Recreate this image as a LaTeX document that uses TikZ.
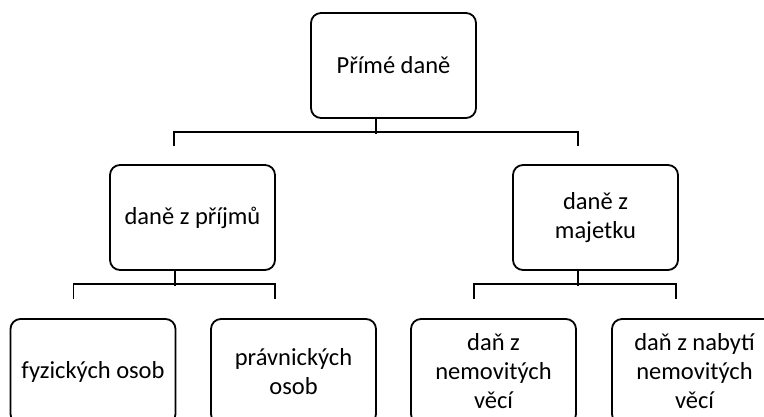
\documentclass[tikz,border=0pt]{standalone}
\usepackage{fontspec}
\setmainfont{Carlito}
\tikzset{
  box/.style={draw, line width=1.8pt, rounded corners=10pt,
    minimum width=165pt, minimum height=105pt, align=center,
    font=\fontsize{24.5}{29}\selectfont},
  link/.style={line width=1.8pt}
}
\begin{document}
\begin{tikzpicture}[x=1pt, y=-1pt]
    \clip (0,0) rectangle (764,416);
    \node[box] (top) at (393.5,65.5) {Přímé daně};
    \node[box] (inc) at (192.5,217.5) {daně z příjmů};
    \node[box] (prop) at (595.5,217.5) {daně z\\majetku};
    \node[box] (fyz) at (93,371.5) {fyzických osob};
    \node[box] (prav) at (293.5,371.5) {právnických\\osob};
    \node[box] (nem) at (493.5,371.5) {daň z\\nemovitých\\věcí};
    \node[box] (nab) at (694.5,371.5) {daň z nabytí\\nemovitých\\věcí};
    % connectors
    \draw[link] ([xshift=-17.5pt]top.south) -- ++(0,15);
    \draw[link] ([xshift=-18.5pt,yshift=18pt]inc.north) |- ([xshift=-17.5pt,yshift=32pt]prop.north) -- ++(0,14);
    \foreach \p/\a/\b in {inc/fyz/prav, prop/nem/nab} {
      \draw[link] ([xshift=-17.5pt]\p.south) -- ++(0,15);
      \draw[link] ([xshift=-19.5pt,yshift=19pt]\a.north) |- ([xshift=-18.5pt,yshift=34pt]\b.north) -- ++(0,15);
    }
\end{tikzpicture}
\end{document}
